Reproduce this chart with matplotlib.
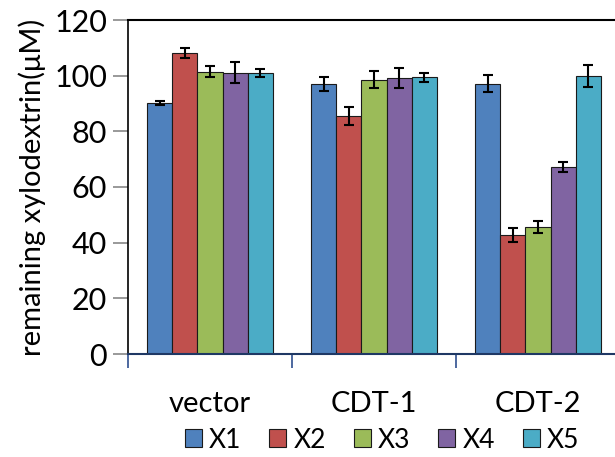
import numpy as np
import matplotlib
matplotlib.use("Agg")
import matplotlib.pyplot as plt

plt.rcParams['font.family'] = ['Lato', 'DejaVu Sans']

# data
groups = ["vector", "CDT-1", "CDT-2"]
series = ["X1", "X2", "X3", "X4", "X5"]
means = [
    [90.2, 97.0, 97.1],     # X1
    [108.3, 85.5, 42.9],    # X2
    [101.4, 98.6, 45.7],    # X3
    [101.0, 99.2, 67.2],    # X4
    [101.0, 99.4, 100.0],   # X5
]
errors = [
    [0.7, 2.5, 3.0],
    [1.8, 3.2, 2.5],
    [1.9, 3.1, 2.1],
    [3.8, 3.5, 1.8],
    [1.5, 1.5, 4.0],
]
colors = ["#4F81BD", "#C0504D", "#9BBB59", "#8064A2", "#4BACC6"]

fig = plt.figure(figsize=(6.15, 4.57), dpi=100)
ax = fig.add_axes([128 / 615, 103 / 457, 492 / 615, 334 / 457])

x = np.arange(len(groups))
w = 1 / 6.5
for i, name in enumerate(series):
    pos = x + (i - 2) * w
    ax.bar(pos, means[i], width=w, color=colors[i], edgecolor="#1a1a1a",
           linewidth=0.8, label=name, zorder=2)
    ax.errorbar(pos, means[i], yerr=errors[i], fmt="none", ecolor="black",
                elinewidth=1.5, capsize=3.5, capthick=1.5, zorder=3)

ax.set_xlim(-0.5, 2.5)
ax.set_ylim(0, 120)
ax.set_yticks(range(0, 121, 20))
ax.tick_params(axis="y", labelsize=22, length=11, width=1.2, color="#888888",
               pad=4)

ax.set_xticks(x)
ax.set_xticklabels(groups)
ax.tick_params(axis="x", which="major", length=0, labelsize=21, pad=27)
ax.set_xticks([-0.5, 0.5, 1.5, 2.5], minor=True)
ax.tick_params(axis="x", which="minor", length=10, width=1.2,
               color="#2F4F8F")

ax.spines["right"].set_visible(False)
ax.spines["left"].set_linewidth(1.2)
ax.spines["top"].set_linewidth(1.5)
ax.spines["bottom"].set_color("#1F3864")
ax.spines["bottom"].set_linewidth(1.5)

ax.set_ylabel("remaining xylodextrin(\u03bcM)", fontsize=21, labelpad=6)

ax.legend(loc="center", bbox_to_anchor=(382 / 615, 17 / 457),
          bbox_transform=fig.transFigure, ncol=5, frameon=False,
          fontsize=19, handlelength=0.65, handleheight=0.65,
          handletextpad=0.27, columnspacing=1.05)

fig.savefig("out.png", dpi=100)
